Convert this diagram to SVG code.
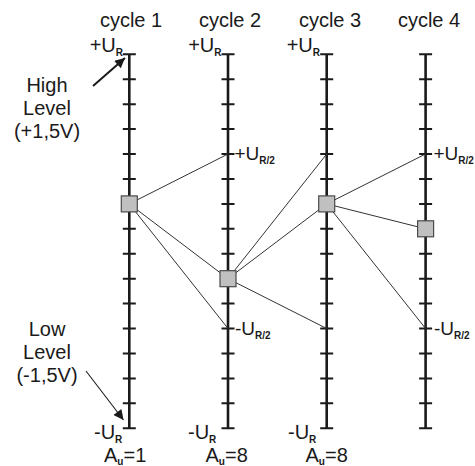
<svg xmlns="http://www.w3.org/2000/svg" width="475" height="466" viewBox="0 0 475 466">
  <style>
    .txt { font-family: "Liberation Sans", Arial, sans-serif; fill: #1a1a1a; }
    .big { font-size: 20px; }
    .lbl { font-size: 20px; }
    .sub { font-size: 10px; font-weight: bold; }
    .axis { stroke: #1a1a1a; stroke-width: 2.6; fill: none; }
    .tick { stroke: #1a1a1a; stroke-width: 2; fill: none; }
    .conn { stroke: #333; stroke-width: 1; fill: none; }
    .node { fill: #c0c0c0; stroke: #4a4a4a; stroke-width: 1.2; }
    .pointer { stroke: #1a1a1a; fill: none; }
  </style>
  <defs>
    <!-- one level scale: vertical axis with 16 ticks -->
    <g id="scale">
      <line class="axis" x1="0" y1="54.3" x2="0" y2="428.3"/>
      <path class="tick" d="M-6.5 54.3h13M-6.5 79.2h13M-6.5 104.2h13M-6.5 129.1h13M-6.5 154h13M-6.5 179h13M-6.5 203.9h13M-6.5 228.8h13M-6.5 253.7h13M-6.5 278.7h13M-6.5 303.6h13M-6.5 328.5h13M-6.5 353.5h13M-6.5 378.4h13M-6.5 403.3h13M-6.5 428.3h13"/>
    </g>
    <marker id="head" viewBox="0 0 10 10" refX="10" refY="5" markerWidth="11" markerHeight="10" markerUnits="userSpaceOnUse" orient="auto">
      <path d="M0 0L10 5L0 10z" fill="#1a1a1a"/>
    </marker>
  </defs>

  <!-- cycle headings -->
  <g id="headings" class="txt big" text-anchor="middle">
    <text x="131" y="27">cycle 1</text>
    <text x="230" y="27">cycle 2</text>
    <text x="330" y="27">cycle 3</text>
    <text x="429" y="27">cycle 4</text>
  </g>

  <!-- scales -->
  <g id="scale1"><use href="#scale" x="129.3"/></g>
  <g id="scale2"><use href="#scale" x="228"/></g>
  <g id="scale3"><use href="#scale" x="326.7"/></g>
  <g id="scale4"><use href="#scale" x="425.6"/></g>

  <!-- connectors between sample points -->
  <g id="connectors" class="conn">
    <line x1="129.3" y1="203.9" x2="228" y2="154"/>
    <line x1="129.3" y1="203.9" x2="228" y2="278.7"/>
    <line x1="129.3" y1="203.9" x2="228" y2="328.5"/>
    <line x1="228" y1="278.7" x2="326.7" y2="154"/>
    <line x1="228" y1="278.7" x2="326.7" y2="203.9"/>
    <line x1="228" y1="278.7" x2="326.7" y2="328.5"/>
    <line x1="326.7" y1="203.9" x2="425.6" y2="154"/>
    <line x1="326.7" y1="203.9" x2="425.6" y2="228.8"/>
    <line x1="326.7" y1="203.9" x2="425.6" y2="328.5"/>
  </g>

  <!-- sample points -->
  <g id="p1"><rect class="node" x="121.3" y="195.9" width="16" height="16"/></g>
  <g id="p2"><rect class="node" x="220" y="270.7" width="16" height="16"/></g>
  <g id="p3"><rect class="node" x="318.7" y="195.9" width="16" height="16"/></g>
  <g id="p4"><rect class="node" x="417.6" y="220.8" width="16" height="16"/></g>

  <!-- reference level labels -->
  <g id="top-labels" class="txt lbl" text-anchor="end">
    <text x="123" y="52">+U<tspan class="sub" dy="4">R</tspan></text>
    <text x="221.5" y="52">+U<tspan class="sub" dy="4">R</tspan></text>
    <text x="320" y="52">+U<tspan class="sub" dy="4">R</tspan></text>
  </g>
  <g id="bottom-labels" class="txt lbl">
    <text x="94" y="439">-U<tspan class="sub" dy="4">R</tspan></text>
    <text x="188" y="439">-U<tspan class="sub" dy="4">R</tspan></text>
    <text x="288" y="439">-U<tspan class="sub" dy="4">R</tspan></text>
  </g>
  <g id="half-labels" class="txt" font-size="19">
    <text x="234.5" y="160">+U<tspan class="sub" dy="4">R/2</tspan></text>
    <text x="235" y="335">-U<tspan class="sub" dy="4">R/2</tspan></text>
    <text x="433.5" y="160">+U<tspan class="sub" dy="4">R/2</tspan></text>
    <text x="434" y="335">-U<tspan class="sub" dy="4">R/2</tspan></text>
  </g>
  <g id="gain-labels" class="txt lbl">
    <text x="104" y="462">A<tspan class="sub" dy="3">u</tspan><tspan dy="-3">=1</tspan></text>
    <text x="205.5" y="462">A<tspan class="sub" dy="3">u</tspan><tspan dy="-3">=8</tspan></text>
    <text x="305.5" y="462">A<tspan class="sub" dy="3">u</tspan><tspan dy="-3">=8</tspan></text>
  </g>

  <!-- level annotations -->
  <g id="high-level">
    <g class="txt big" text-anchor="middle">
      <text x="47" y="92">High</text>
      <text x="47" y="115">Level</text>
      <text x="47" y="138">(+1,5V)</text>
    </g>
    <line class="pointer" stroke-width="2" x1="93" y1="86" x2="125" y2="58" marker-end="url(#head)"/>
  </g>
  <g id="low-level">
    <g class="txt big" text-anchor="middle">
      <text x="47" y="336">Low</text>
      <text x="47" y="359">Level</text>
      <text x="47" y="382">(-1,5V)</text>
    </g>
    <line class="pointer" stroke-width="1.1" x1="86" y1="371" x2="123.5" y2="420" marker-end="url(#head)"/>
  </g>
</svg>
